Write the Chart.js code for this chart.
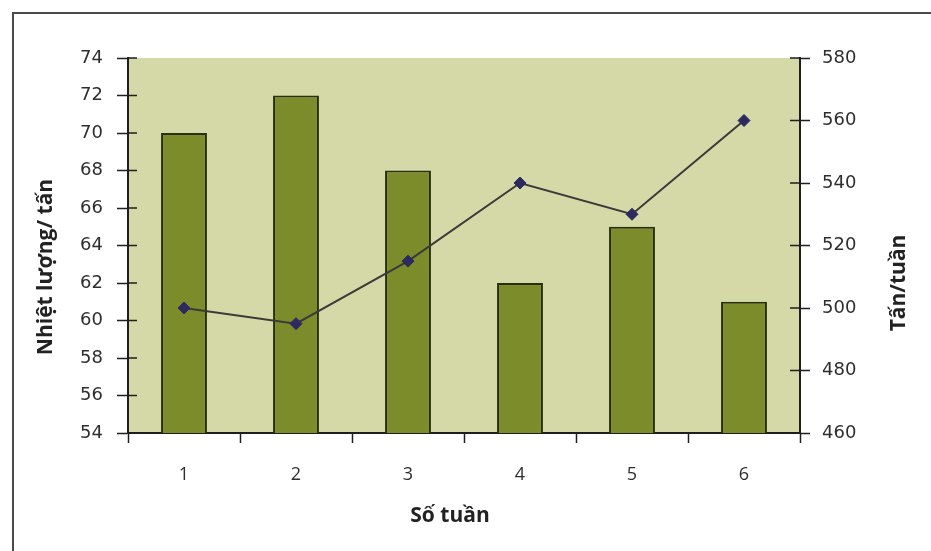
<!DOCTYPE html>
<html>
<head>
<meta charset="utf-8">
<script src="https://cdn.jsdelivr.net/npm/chart.js@4.4.1/dist/chart.umd.min.js"></script>
<style>
  html, body { margin: 0; padding: 0; background: #ffffff; }
  #wrap { position: relative; width: 931px; height: 551px; overflow: hidden; }
  canvas { position: absolute; left: 0; top: 0; }
</style>
</head>
<body>
<div id="wrap"><canvas id="c" width="931" height="551"></canvas></div>
<script>
// Weekly figures
const weeks = ['1', '2', '3', '4', '5', '6'];
const heatPerTon = [70, 72, 68, 62, 65, 61];      // Nhiệt lượng/ tấn (left axis)
const tonsPerWeek = [500, 495, 515, 540, 530, 560]; // Tấn/tuần (right axis)

const leftTitle = 'Nhiệt lượng/ tấn';
const rightTitle = 'Tấn/tuần';
const xTitle = 'Số tuần';

const PLOT_BG = '#d5d8a7';
const BAR_FILL = '#7d8c2b';
const BAR_EDGE = '#2a300e';
const AXIS = '#1e1e1e';
const TEXT = '#2e2e2e';
const TITLE_FONT = 'bold 21px "Open Sans"';

function drawText(ctx, text, x, y, rot) {
  ctx.save();
  ctx.translate(x, y);
  if (rot) ctx.rotate(rot);
  ctx.font = TITLE_FONT;
  ctx.fillStyle = '#222';
  ctx.textAlign = 'center';
  ctx.textBaseline = 'middle';
  ctx.fillText(text, 0, 0);
  ctx.restore();
}

// Frame, plot background, inner halves of axis ticks and the axis titles
const decor = {
  id: 'decor',
  beforeDraw(chart) {
    const { ctx, chartArea: a } = chart;
    ctx.save();
    ctx.fillStyle = '#ffffff';
    ctx.fillRect(0, 0, chart.width, chart.height);
    ctx.strokeStyle = '#4a4a4a';
    ctx.lineWidth = 2;
    ctx.beginPath();
    ctx.moveTo(13, chart.height + 5);
    ctx.lineTo(13, 13);
    ctx.lineTo(chart.width + 5, 13);
    ctx.stroke();
    ctx.fillStyle = PLOT_BG;
    ctx.fillRect(a.left, a.top, a.right - a.left, a.bottom - a.top);
    ctx.restore();
  },
  afterDatasetsDraw(chart) {
    const { ctx, chartArea: a, scales } = chart;
    ctx.save();
    ctx.strokeStyle = AXIS;
    ctx.lineWidth = 1.5;
    ctx.beginPath();
    scales.y.ticks.forEach((t, i) => {
      const yy = scales.y.getPixelForTick(i);
      ctx.moveTo(a.left, yy); ctx.lineTo(a.left + 9, yy);
    });
    scales.y2.ticks.forEach((t, i) => {
      const yy = scales.y2.getPixelForTick(i);
      ctx.moveTo(a.right, yy); ctx.lineTo(a.right - 10, yy);
    });
    ctx.stroke();
    ctx.restore();
    drawText(ctx, leftTitle, 46, 267, -Math.PI / 2);
    drawText(ctx, rightTitle, 899, 283, -Math.PI / 2);
    drawText(ctx, xTitle, 450, 516, 0);
  }
};

new Chart(document.getElementById('c'), {
  type: 'bar',
  data: {
    labels: weeks,
    datasets: [
      {
        type: 'line',
        data: tonsPerWeek,
        yAxisID: 'y2',
        order: 0,
        borderColor: '#3a3a3a',
        borderWidth: 2,
        pointStyle: 'rectRot',
        pointRadius: 6,
        pointBackgroundColor: '#2c2a5e',
        pointBorderColor: '#2c2a5e',
        pointBorderWidth: 1,
        tension: 0
      },
      {
        type: 'bar',
        data: heatPerTon,
        yAxisID: 'y',
        order: 1,
        backgroundColor: BAR_FILL,
        borderColor: BAR_EDGE,
        borderWidth: 2,
        barPercentage: 0.41,
        categoryPercentage: 1
      }
    ]
  },
  options: {
    responsive: false,
    animation: false,
    layout: { padding: { top: 58, left: 0, right: 0, bottom: 0 } },
    plugins: { legend: { display: false }, tooltip: { enabled: false } },
    scales: {
      x: {
        position: 'bottom',
        afterFit(s) { s.height = 118; },
        grid: { display: true, drawOnChartArea: false, drawTicks: true, tickLength: 10, tickColor: AXIS, tickWidth: 1.5, offset: true },
        border: { display: true, color: AXIS, width: 2 },
        ticks: { color: TEXT, padding: 21, font: { family: 'Open Sans', size: 18 } },
        title: { display: false }
      },
      y: {
        position: 'left',
        min: 54, max: 74,
        afterFit(s) { s.width = 128; },
        grid: { display: true, drawOnChartArea: false, drawTicks: true, tickLength: 11, tickColor: AXIS, tickWidth: 1.5 },
        border: { display: true, color: AXIS, width: 2 },
        ticks: { stepSize: 2, color: TEXT, padding: 14, font: { family: 'DejaVu Sans', size: 18, weight: 'normal' } },
        title: { display: false }
      },
      y2: {
        position: 'right',
        min: 460, max: 580,
        afterFit(s) { s.width = 131; },
        grid: { display: true, drawOnChartArea: false, drawTicks: true, tickLength: 10, tickColor: AXIS, tickWidth: 1.5 },
        border: { display: true, color: AXIS, width: 2 },
        ticks: { stepSize: 20, color: TEXT, padding: 12, font: { family: 'DejaVu Sans', size: 18, weight: 'normal' } },
        title: { display: false }
      }
    }
  },
  plugins: [decor]
});
</script>
</body>
</html>
